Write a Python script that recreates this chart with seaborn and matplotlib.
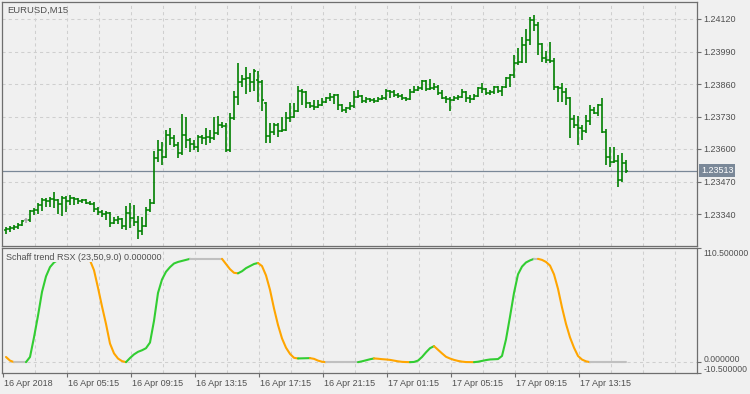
import numpy as np
import pandas as pd
import matplotlib
matplotlib.use("Agg")
import matplotlib.pyplot as plt
import matplotlib.transforms as mtransforms
import seaborn as sns

# ---------------- data ----------------
symbol_title = "EURUSD,M15"
indicator_title = "Schaff trend RSX (23,50,9.0) 0.000000"

open_ = [1.23276, 1.23280, 1.23284, 1.23288, 1.23296, 1.23316, 1.23316, 1.23352, 1.23356, 1.23376,
         1.23396, 1.23392, 1.23400, 1.23396, 1.23380, 1.23404, 1.23392, 1.23404, 1.23400, 1.23392,
         1.23396, 1.23384, 1.23380, 1.23360, 1.23348, 1.23340, 1.23344, 1.23304, 1.23316, 1.23320,
         1.23292, 1.23344, 1.23324, 1.23308, 1.23272, 1.23292, 1.23356, 1.23384, 1.23564, 1.23596,
         1.23568, 1.23656, 1.23644, 1.23616, 1.23584, 1.23656, 1.23636, 1.23620, 1.23608, 1.23648,
         1.23644, 1.23648, 1.23644, 1.23664, 1.23696, 1.23692, 1.23596, 1.23724, 1.23808, 1.23868,
         1.23880, 1.23884, 1.23868, 1.23876, 1.23868, 1.23784, 1.23652, 1.23668, 1.23696, 1.23672,
         1.23676, 1.23724, 1.23728, 1.23752, 1.23832, 1.23828, 1.23784, 1.23772, 1.23768, 1.23776,
         1.23788, 1.23804, 1.23808, 1.23816, 1.23776, 1.23756, 1.23764, 1.23772, 1.23808, 1.23812,
         1.23792, 1.23800, 1.23796, 1.23792, 1.23800, 1.23804, 1.23832, 1.23828, 1.23816, 1.23812,
         1.23804, 1.23800, 1.23828, 1.23836, 1.23844, 1.23872, 1.23840, 1.23844, 1.23848, 1.23824,
         1.23804, 1.23800, 1.23796, 1.23804, 1.23808, 1.23828, 1.23804, 1.23800, 1.23812, 1.23844,
         1.23840, 1.23824, 1.23828, 1.23848, 1.23832, 1.23848, 1.23884, 1.23896, 1.23944, 1.23948,
         1.24016, 1.24036, 1.24116, 1.24096, 1.24020, 1.23964, 1.23956, 1.23952, 1.23848, 1.23844,
         1.23828, 1.23804, 1.23720, 1.23696, 1.23684, 1.23672, 1.23712, 1.23756, 1.23744, 1.23776,
         1.23668, 1.23568, 1.23548, 1.23552, 1.23476, 1.23544]

high = [1.23288, 1.23292, 1.23296, 1.23304, 1.23316, 1.23324, 1.23356, 1.23364, 1.23384, 1.23404,
        1.23404, 1.23408, 1.23428, 1.23400, 1.23412, 1.23412, 1.23416, 1.23408, 1.23404, 1.23400,
        1.23400, 1.23392, 1.23388, 1.23368, 1.23356, 1.23352, 1.23348, 1.23328, 1.23332, 1.23324,
        1.23372, 1.23384, 1.23376, 1.23332, 1.23328, 1.23368, 1.23400, 1.23592, 1.23636, 1.23628,
        1.23676, 1.23684, 1.23656, 1.23628, 1.23740, 1.23728, 1.23644, 1.23636, 1.23656, 1.23656,
        1.23684, 1.23676, 1.23728, 1.23732, 1.23708, 1.23704, 1.23744, 1.23832, 1.23944, 1.23896,
        1.23928, 1.23904, 1.23920, 1.23912, 1.23876, 1.23788, 1.23704, 1.23704, 1.23704, 1.23728,
        1.23748, 1.23784, 1.23784, 1.23852, 1.23840, 1.23832, 1.23788, 1.23796, 1.23796, 1.23804,
        1.23808, 1.23824, 1.23820, 1.23820, 1.23780, 1.23768, 1.23788, 1.23832, 1.23836, 1.23816,
        1.23808, 1.23804, 1.23804, 1.23808, 1.23816, 1.23840, 1.23836, 1.23836, 1.23824, 1.23820,
        1.23808, 1.23840, 1.23852, 1.23852, 1.23876, 1.23876, 1.23880, 1.23864, 1.23856, 1.23836,
        1.23812, 1.23808, 1.23812, 1.23816, 1.23840, 1.23832, 1.23816, 1.23820, 1.23848, 1.23864,
        1.23844, 1.23836, 1.23852, 1.23852, 1.23852, 1.23888, 1.23900, 1.23976, 1.24004, 1.24048,
        1.24080, 1.24128, 1.24136, 1.24108, 1.24024, 1.23992, 1.24028, 1.23964, 1.23852, 1.23864,
        1.23844, 1.23808, 1.23736, 1.23732, 1.23696, 1.23736, 1.23776, 1.23768, 1.23780, 1.23804,
        1.23680, 1.23608, 1.23608, 1.23576, 1.23584, 1.23556]

low = [1.23260, 1.23268, 1.23276, 1.23280, 1.23292, 1.23304, 1.23308, 1.23336, 1.23340, 1.23352,
       1.23368, 1.23368, 1.23364, 1.23340, 1.23332, 1.23348, 1.23376, 1.23376, 1.23380, 1.23384,
       1.23380, 1.23376, 1.23348, 1.23336, 1.23328, 1.23316, 1.23288, 1.23300, 1.23300, 1.23280,
       1.23276, 1.23284, 1.23292, 1.23240, 1.23256, 1.23288, 1.23348, 1.23380, 1.23548, 1.23536,
       1.23564, 1.23616, 1.23608, 1.23564, 1.23576, 1.23604, 1.23588, 1.23596, 1.23588, 1.23620,
       1.23616, 1.23624, 1.23636, 1.23656, 1.23684, 1.23588, 1.23588, 1.23716, 1.23776, 1.23848,
       1.23820, 1.23828, 1.23832, 1.23788, 1.23752, 1.23624, 1.23624, 1.23656, 1.23648, 1.23668,
       1.23672, 1.23708, 1.23724, 1.23748, 1.23776, 1.23764, 1.23764, 1.23756, 1.23764, 1.23772,
       1.23784, 1.23792, 1.23780, 1.23756, 1.23748, 1.23744, 1.23756, 1.23764, 1.23804, 1.23784,
       1.23784, 1.23788, 1.23784, 1.23788, 1.23796, 1.23796, 1.23804, 1.23808, 1.23804, 1.23796,
       1.23792, 1.23796, 1.23824, 1.23832, 1.23836, 1.23832, 1.23836, 1.23836, 1.23816, 1.23800,
       1.23784, 1.23752, 1.23792, 1.23796, 1.23804, 1.23788, 1.23784, 1.23796, 1.23808, 1.23824,
       1.23816, 1.23816, 1.23820, 1.23824, 1.23812, 1.23844, 1.23848, 1.23884, 1.23936, 1.23944,
       1.23944, 1.24016, 1.24072, 1.23976, 1.23948, 1.23944, 1.23944, 1.23836, 1.23788, 1.23788,
       1.23776, 1.23644, 1.23684, 1.23616, 1.23636, 1.23664, 1.23696, 1.23740, 1.23732, 1.23664,
       1.23536, 1.23528, 1.23544, 1.23448, 1.23468, 1.23504]

close = [1.23280, 1.23284, 1.23288, 1.23296, 1.23312, 1.23316, 1.23352, 1.23356, 1.23376, 1.23396,
         1.23392, 1.23400, 1.23396, 1.23380, 1.23404, 1.23392, 1.23404, 1.23400, 1.23392, 1.23396,
         1.23384, 1.23380, 1.23360, 1.23348, 1.23340, 1.23344, 1.23304, 1.23316, 1.23320, 1.23292,
         1.23344, 1.23324, 1.23308, 1.23272, 1.23292, 1.23356, 1.23384, 1.23564, 1.23596, 1.23568,
         1.23656, 1.23644, 1.23616, 1.23584, 1.23656, 1.23636, 1.23620, 1.23608, 1.23648, 1.23644,
         1.23648, 1.23644, 1.23664, 1.23696, 1.23692, 1.23596, 1.23724, 1.23808, 1.23868, 1.23880,
         1.23884, 1.23868, 1.23912, 1.23868, 1.23796, 1.23652, 1.23668, 1.23696, 1.23672, 1.23676,
         1.23724, 1.23728, 1.23752, 1.23832, 1.23828, 1.23784, 1.23772, 1.23768, 1.23776, 1.23788,
         1.23804, 1.23808, 1.23816, 1.23776, 1.23756, 1.23764, 1.23772, 1.23808, 1.23812, 1.23792,
         1.23800, 1.23796, 1.23792, 1.23800, 1.23804, 1.23832, 1.23828, 1.23816, 1.23812, 1.23804,
         1.23800, 1.23828, 1.23836, 1.23844, 1.23872, 1.23840, 1.23844, 1.23848, 1.23824, 1.23804,
         1.23800, 1.23796, 1.23804, 1.23808, 1.23828, 1.23804, 1.23800, 1.23812, 1.23844, 1.23840,
         1.23824, 1.23828, 1.23848, 1.23832, 1.23848, 1.23884, 1.23896, 1.23944, 1.23948, 1.24016,
         1.24036, 1.24116, 1.24096, 1.24020, 1.23964, 1.23956, 1.23952, 1.23848, 1.23844, 1.23828,
         1.23804, 1.23720, 1.23696, 1.23684, 1.23672, 1.23712, 1.23756, 1.23744, 1.23776, 1.23668,
         1.23568, 1.23548, 1.23552, 1.23476, 1.23544, 1.23513]

stc = [5, 1.5, 0, 0, 0, 0, 5, 24, 45, 68,
       83, 92, 96.5, 99, 100, 100, 100, 100, 100, 100,
       100, 98.5, 89, 72, 54, 37, 18, 8.5, 3.5, 1,
       0, 4, 7.5, 10, 11.5, 13.5, 19, 40, 67, 80,
       87.5, 92, 95.5, 97, 98, 99, 100, 100, 100, 100,
       100, 100, 100, 100, 100, 95, 90, 86.5, 86, 88,
       91, 93, 95, 96, 93, 84, 70, 52, 36, 23,
       14, 8, 4.2, 3.6, 3.7, 3.8, 3.9, 3.2, 1.5, 0.4,
       0, 0, 0, 0, 0, 0, 0, 0, 0, 0.8,
       1.8, 2.8, 3.6, 3.3, 2.9, 2.6, 2.2, 1.5, 0.8, 0.3,
       0.1, 0.0, 0.2, 1.5, 5, 9.5, 13.5, 15.5, 12, 8.5,
       5.2, 3.5, 2.2, 1.2, 0.5, 0.1, 0.05, 0.0, 0.4, 1.2,
       2.0, 2.6, 2.8, 3.0, 6, 22, 44, 67, 85, 92.5,
       96.5, 98.5, 100, 100, 99, 97, 93.5, 85, 71, 53,
       37, 24, 14, 6, 2.5, 0.8, 0, 0, 0, 0,
       0, 0, 0, 0, 0, 0]

price_ticks = [1.23340, 1.23470, 1.23600, 1.23730, 1.23860, 1.23990, 1.24120]
ind_ticks = [-10.5, 0.0, 110.5]
time_labels = ["16 Apr 2018", "16 Apr 05:15", "16 Apr 09:15", "16 Apr 13:15", "16 Apr 17:15",
               "16 Apr 21:15", "17 Apr 01:15", "17 Apr 05:15", "17 Apr 09:15", "17 Apr 13:15"]
time_label_bars = [0, 16, 32, 48, 64, 80, 96, 112, 128, 144]

# ---------------- style ----------------
BG = "#f0f0f0"
SPINE = "#6e6e6e"
GRID = "#cfcfcf"
TXT = "#505050"
BAR = "#008000"
DOJI = "#a8a8a8"
UP, DOWN, FLAT = "#32cd32", "#ffa500", "#c0c0c0"

sns.set_theme(style="white", rc={"axes.facecolor": BG, "figure.facecolor": BG})
plt.rcParams["font.family"] = ["Liberation Sans", "DejaVu Sans"]
plt.rcParams["font.size"] = 6.5

W, H = 750, 394
fig = plt.figure(figsize=(W / 100, H / 100), dpi=100, facecolor=BG)
ax1 = fig.add_axes([2 / W, (H - 246) / H, 695 / W, 244 / H])
ax2 = fig.add_axes([2 / W, (H - 373) / H, 695 / W, 125 / H])

n = len(close)
x = np.arange(n)
XMIN, XMAX = -1.0, 172.75
OFF = -0.75  # grid/tick offset relative to bar centres
grid_x = [OFF + 8 * k for k in range(1, 22)]

for ax in (ax1, ax2):
    ax.set_facecolor(BG)
    ax.set_xlim(XMIN, XMAX)
    for s in ax.spines.values():
        s.set_color(SPINE)
        s.set_linewidth(0.9)
    for gx in grid_x:
        ax.axvline(gx, color=GRID, lw=0.75, ls=(0, (3, 3)), zorder=0.5)

# ---- main price panel ----
ax1.set_ylim(1.23212, 1.24188)
for py in price_ticks:
    ax1.axhline(py, color=GRID, lw=0.75, ls=(0, (3, 3)), zorder=0.5)

op = np.array(open_)
cl = np.array(close)
cols = [DOJI if o == c else BAR for o, c in zip(op, cl)]
ax1.vlines(x, low, high, colors=cols, lw=1.2, zorder=3)
ax1.hlines(op, x - 0.5, x, colors=cols, lw=1.1, zorder=3)
ax1.hlines(cl, x, x + 0.5, colors=cols, lw=1.1, zorder=3)

ax1.axhline(close[-1], color="#7a8898", lw=0.9, zorder=2)
ax1.set_yticks(price_ticks)
ax1.set_yticklabels([f"{p:.5f}" for p in price_ticks])
ax1.tick_params(axis="y", left=False, right=True, labelleft=False, labelright=True,
                length=3, width=0.8, color=SPINE, labelcolor=TXT, pad=1.5, labelsize=6.5)
ax1.tick_params(axis="x", bottom=False, labelbottom=False)
ax1.set_xlabel("")
ax1.set_ylabel("")
blend = mtransforms.blended_transform_factory(ax1.transAxes, ax1.transData)
ax1.text(1.0 + 4 / 695, close[-1], f"{close[-1]:.5f}", transform=blend, ha="left", va="center",
         color="white", fontsize=6.5, clip_on=False, zorder=6,
         bbox=dict(boxstyle="square,pad=0.22", fc="#7a8898", ec="none"))
ax1.text(5 / 695, 1 - 8 / 244, symbol_title, transform=ax1.transAxes, ha="left", va="center",
         color=TXT, fontsize=6.8, zorder=6)

# ---- indicator panel ----
ax2.set_ylim(-10.5, 110.5)
ax2.axhline(0, color=GRID, lw=0.75, ls=(0, (3, 3)), zorder=0.5)

v = np.array(stc, dtype=float)
rows = []
run = -1
prev = None
for i in range(n - 1):
    d = v[i + 1] - v[i]
    st = "up" if d > 0 else ("down" if d < 0 else "flat")
    if st != prev:
        run += 1
        rows.append((i, v[i], run, st))
    rows.append((i + 1, v[i + 1], run, st))
    prev = st
df = pd.DataFrame(rows, columns=["bar", "value", "run", "state"])
pal = {"up": UP, "down": DOWN, "flat": FLAT}
for r, g in df.groupby("run"):
    sns.lineplot(data=g, x="bar", y="value", color=pal[g["state"].iloc[0]], sort=False,
                 estimator=None, lw=1.5, ax=ax2, legend=False, zorder=2,
                 solid_capstyle="round")

ax2.set_yticks(ind_ticks)
ax2.set_yticklabels([f"{t:.6f}" for t in ind_ticks])
ax2.tick_params(axis="y", left=False, right=True, labelleft=False, labelright=True,
                length=3, width=0.8, color=SPINE, labelcolor=TXT, pad=1.5, labelsize=6.2)
shifts_px = [-0.5, 3.0, -1.5]
for tk, va, sp in zip(ax2.yaxis.get_major_ticks(), ["bottom", "center", "top"], shifts_px):
    tk.label2.set_va(va)
    tk.label2.set_transform(tk.label2.get_transform() +
                            mtransforms.ScaledTranslation(0, sp / 100, fig.dpi_scale_trans))

ax2.set_xticks([b + OFF for b in time_label_bars])
ax2.set_xticklabels(time_labels, ha="left")
ax2.tick_params(axis="x", bottom=True, length=3, width=0.8, color=SPINE, labelcolor=TXT,
                pad=1.5, labelsize=6.5)
shift = mtransforms.ScaledTranslation(1.5 / 100, 0, fig.dpi_scale_trans)
for lab in ax2.get_xticklabels():
    lab.set_transform(lab.get_transform() + shift)
ax2.set_xlabel("")
ax2.set_ylabel("")
ax2.text(4 / 695, 1 - 9 / 125, indicator_title, transform=ax2.transAxes, ha="left",
         va="center", color=TXT, fontsize=6.5, zorder=6,
         bbox=dict(boxstyle="square,pad=0.1", fc=BG, ec="none"))

fig.savefig("out.png", dpi=100, facecolor=BG)
